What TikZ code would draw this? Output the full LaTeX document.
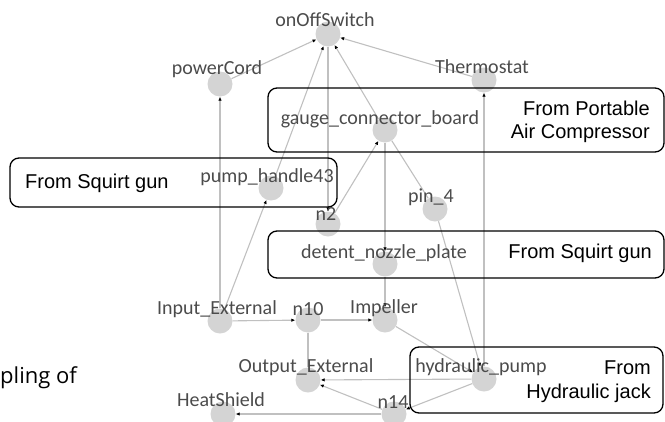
\documentclass[tikz,border=0pt]{standalone}
\usepackage{fontspec}
\setmainfont{Liberation Sans}
\newfontfamily\lblfont{Carlito}
\newfontfamily\sidefont{Open Sans}
\usetikzlibrary{arrows.meta}
\definecolor{dotgray}{RGB}{212,212,212}
\definecolor{edgegray}{RGB}{192,192,192}
\definecolor{lblgray}{RGB}{75,75,75}
\tikzset{
  gdot/.style={circle, fill=dotgray, draw=none, minimum size=25pt, inner sep=0pt},
  glbl/.style={text=lblgray, font=\lblfont\fontsize{20}{22}\selectfont, inner sep=0pt},
  gedge/.style={draw=edgegray, line width=1.1pt, -{Latex[length=4pt,width=3.5pt,color=black]}},
  gline/.style={draw=edgegray, line width=1.1pt},
  groupbox/.style={draw=black, line width=1.3pt, rounded corners=9pt},
  boxtxt/.style={font=\fontsize{20}{24}\selectfont, inner sep=0pt, text=black},
}
\begin{document}
\begin{tikzpicture}[x=1pt,y=-1pt]
\useasboundingbox (0,0) rectangle (665,421);
% circles
\node[gdot] (on) at (328,34) {};
\node[gdot] (pc) at (220,84) {};
\node[gdot] (th) at (484,80) {};
\node[gdot] (gc) at (385,130) {};
\node[gdot] (ph) at (271,188) {};
\node[gdot] (n2) at (328,224) {};
\node[gdot] (p4) at (435,209) {};
\node[gdot] (dn) at (385,264) {};
\node[gdot] (ie) at (220,321) {};
\node[gdot] (n10) at (308,320) {};
\node[gdot] (im) at (385,320) {};
\node[gdot] (oe) at (308,380) {};
\node[gdot] (hp) at (484,379) {};
\node[gdot] (n14) at (394,414) {};
\node[gdot] (hs) at (223,414) {};
% edges
\draw[gedge] (pc) -- (on);
\draw[gedge] (th) -- (on);
\draw[gedge] (ph) -- (on);
\draw[gedge] (gc) -- (on);
\draw[gedge] (on) -- (n2);
\draw[gedge] (n2) -- (gc);
\draw[gedge] (gc) -- (dn);
\draw[gline] (gc) -- (p4);
\draw[gedge] (p4) -- (hp);
\draw[gedge] (hp) -- (th);
\draw[gedge] (dn) -- (im);
\draw[gedge] (ie) -- (n10);
\draw[gedge] (ie) -- (ph);
\draw[gedge] (ie) -- (pc);
\draw[gedge] (n10) -- (im);
\draw[gline] (n10) -- (oe);
\draw[gedge] (hp) -- (oe);
\draw[gedge] (n14) -- (oe);
\draw[gedge] (hp) -- (n14);
\draw[gedge] (n14) -- (hs);
\draw[gedge] (im) -- (hp);
% labels
\node[glbl] (lon) at (325,20) {onOffSwitch};
\node[glbl] (lpc) at (217,69) {powerCord};
\node[glbl] (lth) at (482,67) {Thermostat};
\node[glbl] (lgc) at (380,119) {gauge\_connector\_board};
\node[glbl] (lph) at (267,177) {pump\_handle43};
\node[glbl] (ln2) at (326,214) {n2};
\node[glbl] (lp4) at (431,197) {pin\_4};
\node[glbl] (ldn) at (384,253) {detent\_nozzle\_plate};
\node[glbl] (lie) at (217,309) {Input\_External};
\node[glbl] (ln10) at (308,309) {n10};
\node[glbl] (lim) at (384,308) {Impeller};
\node[glbl] (loe) at (306,367) {Output\_External};
\node[glbl] (lhp) at (481,367) {hydraulic\_pump};
\node[glbl] (ln14) at (393,402) {n14};
\node[glbl] (lhs) at (221,400) {HeatShield};
% group boxes
\draw[groupbox] (268,88) rectangle (664,152);
\draw[groupbox] (10,158) rectangle (337,207);
\draw[groupbox] (268,231) rectangle (664,278);
\draw[groupbox] (410,347) rectangle (663,413);
\node[boxtxt, anchor=east] (ta1) at (650,108) {From Portable};
\node[boxtxt, anchor=east] (ta2) at (650,133) {Air Compressor};
\node[boxtxt, anchor=west] (tb) at (25,183) {From Squirt gun};
\node[boxtxt, anchor=east] (tc) at (652,253) {From Squirt gun};
\node[boxtxt, anchor=east] (td1) at (651,368) {From};
\node[boxtxt, anchor=east] (td2) at (651,393) {Hydraulic jack};
\node[font=\sidefont\fontsize{22}{25}\selectfont, inner sep=0pt, anchor=west] (side) at (0,378) {pling of};
\end{tikzpicture}
\end{document}
